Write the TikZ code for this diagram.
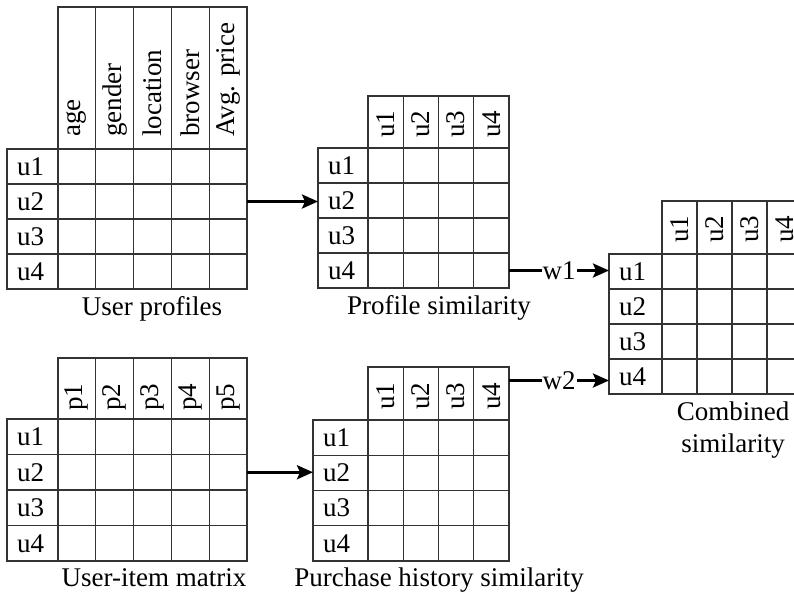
\documentclass[tikz,border=0pt]{standalone}
\usepackage{fontspec}
\setmainfont{Liberation Serif}
\usetikzlibrary{arrows.meta,calc}
\newcommand{\txtfont}{\fontsize{27pt}{32pt}\selectfont}
\tikzset{
  cell/.style={draw=black!80, line width=1.1pt, inner sep=0pt, outer sep=0pt},
  hdr/.style={rotate=90, anchor=west, inner sep=0pt, font=\txtfont},
  lab/.style={anchor=west, inner sep=0pt, font=\txtfont},
  ttl/.style={inner sep=0pt, font=\txtfont},
  wl/.style={fill=white, inner sep=1pt, font=\txtfont},
  arr/.style={line width=2.8pt, -{Stealth[length=16pt,width=14pt,inset=3pt]}}
}
% #1 name, #2 left x, #3 top of first row, #4 label column width, #5 column width,
% #6 header height, #7 row height, #8 header texts, #9 gap below header text
\newcommand{\mtab}[9]{%
  \foreach \hh [count=\cc] in {#8}{
    \node[cell, minimum width=#5pt, minimum height=#6pt, anchor=south west]
      (#1-h\cc) at ({#2+#4+(\cc-1)*#5},#3) {};
    \node[hdr] (#1-ht\cc) at ({#2+#4+(\cc-0.5)*#5},{#3-#9}) {\hh};
  }
  \foreach \rr in {1,...,4}{
    \node[cell, minimum width=#4pt, minimum height=#7pt, anchor=north west]
      (#1-r\rr) at (#2,{#3+(\rr-1)*#7}) {};
    \node[lab] (#1-l\rr) at ($(#1-r\rr.west)+(10,0)$) {u\rr};
    \foreach \hh [count=\cc] in {#8}{
      \node[cell, minimum width=#5pt, minimum height=#7pt, anchor=north west]
        (#1-r\rr-c\cc) at ({#2+#4+(\cc-1)*#5},{#3+(\rr-1)*#7}) {};
    }
  }
}
\begin{document}
\begin{tikzpicture}[x=1pt,y=-1pt]
  \clip (0,0) rectangle (794,592);
  \fill[white] (0,0) rectangle (794,592);

  \mtab{U}{7}{149}{51}{37.8}{142}{35}{age,gender,location,browser,Avg. price}{12}
  \mtab{P}{318}{148}{50}{35.25}{52}{35}{u1,u2,u3,u4}{10}
  \mtab{C}{609}{254}{53}{35}{53}{35}{u1,u2,u3,u4}{11}
  \mtab{M}{7}{419}{51}{37.8}{61}{35.5}{p1,p2,p3,p4,p5}{8}
  \mtab{H}{313}{420}{55}{35.25}{53}{35.25}{u1,u2,u3,u4}{10}

  \node[ttl, anchor=base] (tU) at (152,315) {User profiles};
  \node[ttl, anchor=base] (tP) at (439,314) {Profile similarity};
  \node[ttl, align=center] (tC) at (733,430) {Combined\\similarity};
  \node[ttl, anchor=base] (tM) at (154,586) {User-item matrix};
  \node[ttl, anchor=base] (tH) at (439,586) {Purchase history similarity};

  \draw[arr] (U-r2-c5.east) -- (U-r2-c5.east -| P-r2.west);
  \draw[arr] (M-r2-c5.east) -- (M-r2-c5.east -| H-r2.west);
  \draw[arr] (P-r4-c4.east) -- node[wl] (w1) {w1} (P-r4-c4.east -| C-r1.west);
  \coordinate (w2e) at ($(C-r4.west)+(0,4)$);
  \draw[arr] (w2e -| H-h4.east) -- node[wl] (w2) {w2} (w2e);
\end{tikzpicture}
\end{document}
